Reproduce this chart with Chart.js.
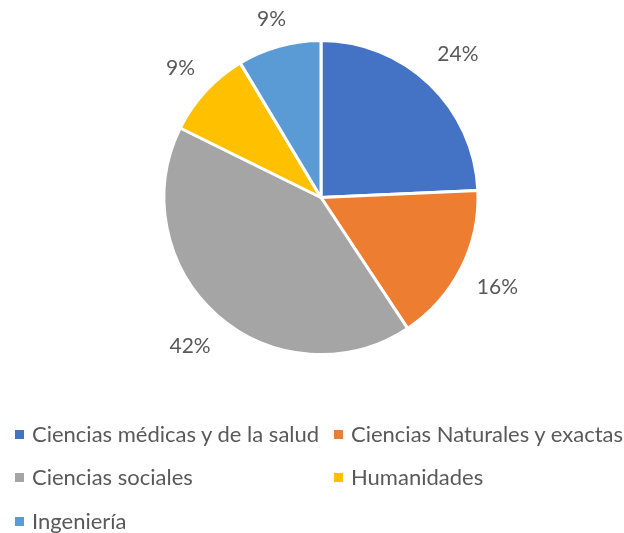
<!DOCTYPE html>
<html>
<head>
<meta charset="utf-8">
<script src="https://cdn.jsdelivr.net/npm/chart.js@4"></script>
<style>
  html, body { margin: 0; padding: 0; background: #fff; }
  #wrap { position: relative; width: 624px; height: 533px; }
  #legend { position: absolute; left: 0; top: 0; width: 624px; height: 533px; pointer-events: none;
    font-family: Lato, sans-serif; font-size: 22px; color: #595959; }
  .item { position: absolute; white-space: nowrap; line-height: 26px; }
  .box { display: inline-block; width: 9px; height: 9px; margin-right: 8px; vertical-align: 3px; }
</style>
</head>
<body>
<div id="wrap">
  <canvas id="Grafica" width="624" height="533"></canvas>
  <div id="legend"></div>
</div>
<script>
const labels = ['Ciencias médicas y de la salud', 'Ciencias Naturales y exactas', 'Ciencias sociales', 'Humanidades', 'Ingeniería'];
const values = [24.3, 16.4, 41.6, 9.1, 8.6];
const colors = ['#4472C4', '#ED7D31', '#A5A5A5', '#FFC000', '#5B9BD5'];

// legend grid: two columns, three rows
const legendPos = [[15, 421], [334, 421], [15, 464], [334, 464], [15, 508]];
// extra distance of each percentage label past the pie edge
const labelOffsets = [41, 41, 41, 34, 28];

const outsideLabels = {
  id: 'outsideLabels',
  afterDatasetsDraw(chart) {
    const ctx = chart.ctx;
    const meta = chart.getDatasetMeta(0);
    const total = values.reduce((a, b) => a + b, 0);
    ctx.save();
    ctx.font = '21px Lato, sans-serif';
    ctx.fillStyle = '#595959';
    ctx.textAlign = 'center';
    ctx.textBaseline = 'middle';
    meta.data.forEach((arc, i) => {
      const mid = (arc.startAngle + arc.endAngle) / 2;
      const r = arc.outerRadius + labelOffsets[i];
      const x = arc.x + Math.cos(mid) * r;
      const y = arc.y + Math.sin(mid) * r;
      ctx.fillText(Math.round(values[i] / total * 100) + '%', x, y);
    });
    ctx.restore();
  }
};

const config = {
  type: 'pie',
  data: {
    labels: labels,
    datasets: [{
      data: values,
      backgroundColor: colors,
      borderColor: '#ffffff',
      borderWidth: 3
    }]
  },
  options: {
    responsive: false,
    animation: false,
    layout: { padding: { left: 18, right: 0, top: 39, bottom: 177 } },
    plugins: {
      legend: { display: false },
      tooltip: { enabled: false }
    }
  },
  plugins: [outsideLabels]
};

const chart = new Chart(document.getElementById('Grafica'), config);

const $Legend = document.getElementById('legend');
labels.forEach((name, i) => {
  const el = document.createElement('div');
  el.className = 'item';
  el.style.left = legendPos[i][0] + 'px';
  el.style.top = legendPos[i][1] + 'px';
  el.innerHTML = '<span class="box" style="background:' + colors[i] + '"></span>' + name;
  $Legend.appendChild(el);
});
</script>
</body>
</html>
